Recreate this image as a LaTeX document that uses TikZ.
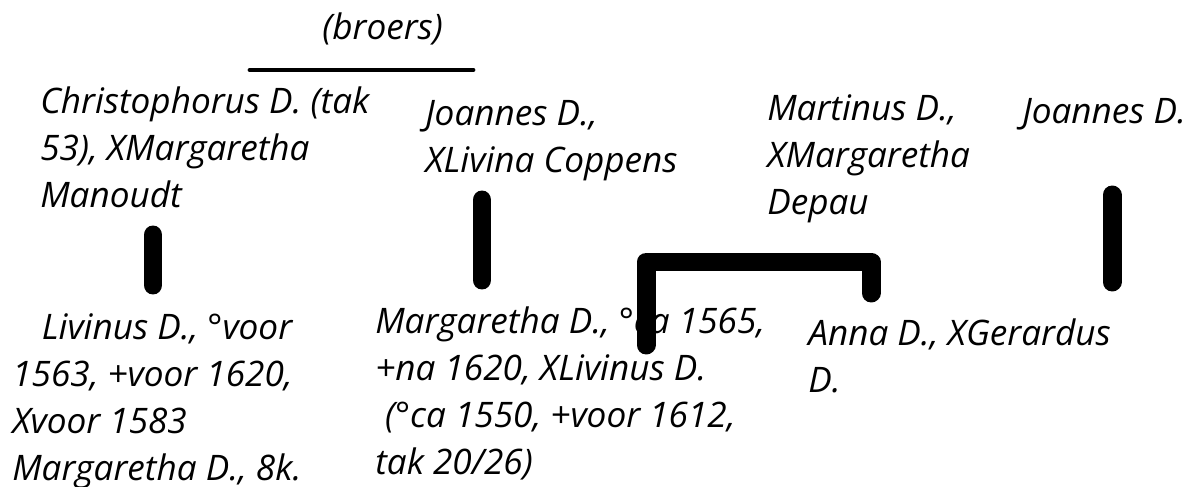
\documentclass[tikz,border=0pt]{standalone}
\usepackage{fontspec}
\setmainfont{Open Sans}
\usetikzlibrary{positioning}

\begin{document}
\begin{tikzpicture}[
	%	style def
    x=0.025cm, y=-0.025cm,
    person/.style={anchor=base west, inner sep=0pt, align=left, font=\itshape\fontsize{25}{33.4}\selectfont},
    bar line/.style={line width=13.5pt, line cap=round},
    elbow line/.style={line width=13.5pt, line cap=round, line join=round},
    broers line/.style={line width=3.5pt, line cap=round}
    ]
    \useasboundingbox (0,0) rectangle (1195,486);

	% parents row (base = last line)
	\node[person] (broers) at (322,40) {(broers)};
	\node[person] (christophorus) at (40,207) {Christophorus D. (tak\\53), XMargaretha\\Manoudt};
	\node[person] (joannesA) at (425,172) {Joannes D.,\\XLivina Coppens};
	\node[person] (martinus) at (767,214) {Martinus D.,\\XMargaretha\\Depau};
	\node[person] (joannesB) at (1022,123) {Joannes D.};

	% children row
	\node[person] (livinus) at (12,480) {\hspace*{21pt}Livinus D., °voor\\1563, +voor 1620,\\Xvoor 1583\\Margaretha D., 8k.};
	\node[person] (margaretha) at (375,474) {Margaretha D., °ca 1565,\\+na 1620, XLivinus D.\\\hspace*{7pt}(°ca 1550, +voor 1612,\\tak 20/26)};
	\node[person] (anna) at (808,392) {Anna D., XGerardus\\D.};

	% bar ends
	\coordinate (l1) at (250,70);
	\coordinate (l2) at (473,70);
	\coordinate (a1) at (153,235);
	\coordinate (a2) at (153,285);
	\coordinate (b1) at (482,200);
	\coordinate (b2) at (482,280);
	\coordinate (c1) at (646,345);
	\coordinate (c2) at (646,262);
	\coordinate (c3) at (871,262);
	\coordinate (c4) at (871,293);
	\coordinate (d1) at (1112,195);
	\coordinate (d2) at (1112,282);

	% connections
	\draw[broers line] (l1) -- (l2);
	\draw[bar line] (a1) -- (a2);
	\draw[bar line] (b1) -- (b2);
	\draw[elbow line] (c1) -- (c2) -- (c3) -- (c4);
	\draw[bar line] (d1) -- (d2);
\end{tikzpicture}
\end{document}
